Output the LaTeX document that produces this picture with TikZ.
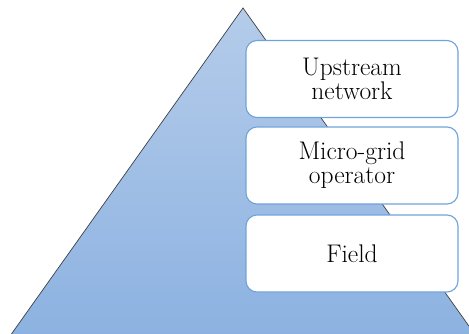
\documentclass[tikz,border=0pt]{standalone}
\definecolor{pyrtop}{HTML}{B5CCEA}
\definecolor{pyrbot}{HTML}{8CB2E1}
\definecolor{boxline}{HTML}{6FA3DB}
\tikzset{
  level/.style={draw=boxline, line width=1.1pt, fill=white, rounded corners=11pt,
    minimum width=212pt, minimum height=77pt, inner sep=0pt,
    align=center, font=\fontsize{25.5}{24}\selectfont},
}
\begin{document}
\begin{tikzpicture}[x=1pt,y=-1pt]
\useasboundingbox (0,0) rectangle (469,334);
% pyramid
\shade[top color=pyrtop, bottom color=pyrbot, draw=black!75, line width=0.7pt]
  (243,8) -- (476,336) -- (10,336) -- cycle;
% levels
\node[level] (up) at (352,79) {Upstream\\network};
\node[level] (mg) at (352,165.5) {Micro-grid\\operator};
\node[level] (fd) at (352,253.5) {Field};
\end{tikzpicture}
\end{document}
